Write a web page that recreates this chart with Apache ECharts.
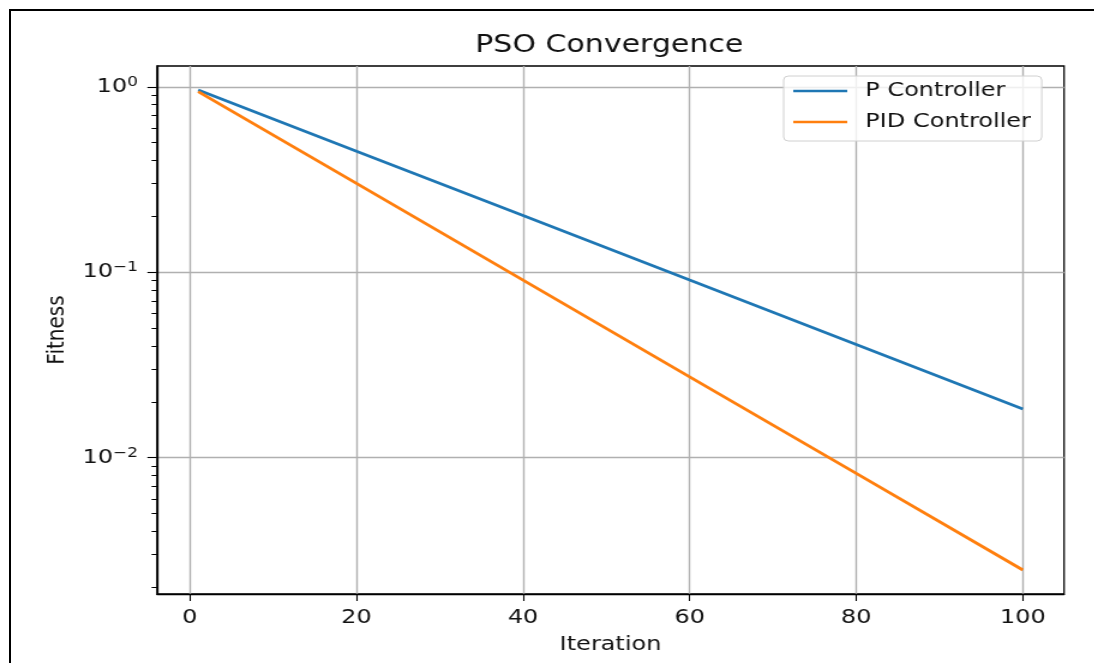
<!DOCTYPE html>
<html>
<head>
<meta charset="utf-8">
<script src="https://cdn.jsdelivr.net/npm/echarts@6/dist/echarts.min.js"></script>
<style>
html, body { margin: 0; padding: 0; background: #fff; }
/* the reference image is stretched horizontally, so the chart is drawn narrower and scaled */
#chart { position: absolute; left: 0; top: 0; width: 912px; height: 663px; transform: scaleX(1.2); transform-origin: 0 0; }
#frame { position: absolute; left: 9px; top: 9px; right: 0; bottom: 0; border-top: 2px solid #000; border-left: 2px solid #000; pointer-events: none; }
</style>
</head>
<body>
<div id="chart"></div>
<div id="frame"></div>
<script>
// values
var iterations = [1, 20, 40, 60, 80, 100]
var pController = [0.961, 0.449, 0.202, 0.0907, 0.0408, 0.0183]
var pidController = [0.942, 0.301, 0.0907, 0.0273, 0.00823, 0.00248]
var xTicks = [0, 20, 40, 60, 80, 100]
var yDecades = [-2, -1, 0]

var font = 'DejaVu Sans'
var textColor = '#111'
var yMin = -2.735, yMax = 0.112

// minor ticks at 2..9 x 10^n on the log axis
var minorTicks = []
;[-3, -2, -1, 0].forEach(function (d) {
    for (var m = 2; m <= 9; m++) {
        var v = d + Math.log10(m)
        if (v > yMin && v < yMax) minorTicks.push(v)
    }
})

function toSeries(values) {
    return iterations.map(function (x, i) { return [x, Math.log10(values[i])] })
}

var chart = echarts.init(document.getElementById('chart'))

var option = {
    animation: false,
    textStyle: {fontFamily: font},
    title: {
        text: 'PSO Convergence',
        left: 396,
        top: 33,
        padding: 0,
        textStyle: {fontFamily: font, fontSize: 25, fontWeight: 'normal', color: textColor}
    },
    legend: {
        left: 653,
        top: 76,
        orient: 'vertical',
        padding: [5, 9, 9, 8],
        itemGap: 11,
        itemWidth: 45,
        itemHeight: 2.6,
        icon: 'rect',
        backgroundColor: 'rgba(255,255,255,0.8)',
        borderColor: '#d0d0d0',
        borderWidth: 1,
        borderRadius: 4,
        textStyle: {fontFamily: font, fontSize: 20, color: textColor, padding: [0, 0, 0, 10]},
        data: ['P Controller', 'PID Controller']
    },
    grid: {
        left: 130.8,
        right: 25.3,
        top: 66,
        bottom: 69,
        show: true,
        borderColor: '#000',
        borderWidth: 1.3,
        containLabel: false
    },
    xAxis: {
        type: 'value',
        min: -3.95,
        max: 104.95,
        name: 'Iteration',
        nameLocation: 'middle',
        nameGap: 41,
        nameTextStyle: {fontFamily: font, fontSize: 20, color: textColor},
        axisLine: {show: true, onZero: false, lineStyle: {color: '#000', width: 1.3}},
        axisTick: {show: true, length: 7, lineStyle: {color: '#000', width: 1.1}, customValues: xTicks},
        axisLabel: {customValues: xTicks, margin: 14, fontFamily: font, fontSize: 20, color: textColor},
        splitLine: {show: true, lineStyle: {color: '#b0b0b0', width: 1.4}}
    },
    yAxis: [{
        type: 'value',
        min: yMin,
        max: yMax,
        name: 'Fitness',
        nameLocation: 'middle',
        nameGap: 72,
        nameTextStyle: {fontFamily: font, fontSize: 20, color: textColor},
        axisLine: {show: true, onZero: false, lineStyle: {color: '#000', width: 1.3}},
        axisTick: {show: true, length: 8, lineStyle: {color: '#000', width: 1.1}, customValues: yDecades},
        axisLabel: {
            customValues: yDecades,
            margin: 16,
            formatter: function (v) {
                var e = Math.round(v)
                return '{b|10}{s|' + (e < 0 ? '\u2212' + (-e) : e) + '}'
            },
            rich: {
                b: {fontFamily: font, fontSize: 20, color: textColor},
                s: {fontFamily: font, fontSize: 14, color: textColor, padding: [0, 0, 9, 0]}
            }
        },
        splitLine: {show: true, lineStyle: {color: '#b0b0b0', width: 1.4}}
    }, {
        type: 'value',
        min: yMin,
        max: yMax,
        position: 'left',
        axisLine: {show: false, onZero: false},
        axisTick: {show: true, length: 4.5, lineStyle: {color: '#000', width: 1}, customValues: minorTicks},
        axisLabel: {show: false},
        splitLine: {show: false}
    }],
    series: [{
        name: 'P Controller',
        type: 'line',
        symbol: 'none',
        data: toSeries(pController),
        lineStyle: {color: '#1f77b4', width: 2.8},
        itemStyle: {color: '#1f77b4'}
    }, {
        name: 'PID Controller',
        type: 'line',
        symbol: 'none',
        data: toSeries(pidController),
        lineStyle: {color: '#ff7f0e', width: 2.8},
        itemStyle: {color: '#ff7f0e'}
    }]
}

option && chart.setOption(option)
</script>
</body>
</html>
